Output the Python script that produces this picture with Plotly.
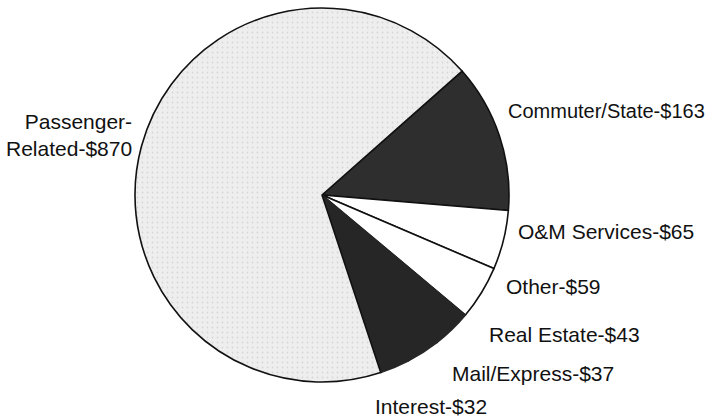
import plotly.graph_objects as go

categories = ["Commuter/State", "O&M Services", "Other", "Real Estate",
              "Mail/Express", "Interest", "Passenger-Related"]
values = [163, 65, 59, 43, 37, 32, 870]
label_texts = ["Commuter/State-$163", "O&M Services-$65", "Other-$59",
               "Real Estate-$43", "Mail/Express-$37", "Interest-$32",
               "Passenger-<br>Related-$870"]

# styling (not data)
slice_colors = ["#2e2e2e", "#ffffff", "#ffffff", "#262626", "#262626", "#262626", "#ededed"]
line_colors = ["#111111", "#111111", "#111111", "#262626", "#262626", "#262626", "#111111"]
pattern_shapes = ["", "", "", "", "", "", "."]
label_pos = [  # x px (anchor), y px (middle), xanchor, font size
    (506, 111, "left", 20), (516, 231, "left", 21), (504, 286, "left", 21),
    (487, 334, "left", 21), (450, 373, "left", 21), (373, 406, "left", 21),
    (134, 135, "right", 21),
]

W, H = 709, 419
cx, cy, r = 322, 195, 187

fig = go.Figure(go.Pie(
    labels=categories, values=values, sort=False, direction="clockwise",
    rotation=48.5, textinfo="none", hoverinfo="label+value",
    marker=dict(colors=slice_colors,
                line=dict(color=line_colors, width=1.6),
                pattern=dict(shape=pattern_shapes, fgcolor="#bdbdbd",
                             bgcolor="#eeeeee", size=5, solidity=0.1,
                             fillmode="overlay")),
    domain=dict(x=[(cx - r) / W, (cx + r) / W],
                y=[(H - cy - r) / H, (H - cy + r) / H]),
    showlegend=False,
))

for txt, (x, y, xa, fs) in zip(label_texts, label_pos):
    fig.add_annotation(x=x / W, y=1 - y / H, xref="paper", yref="paper",
                       text=txt, showarrow=False, xanchor=xa, yanchor="middle",
                       align="right" if xa == "right" else "left",
                       font=dict(family="Liberation Sans, Arial, sans-serif",
                                 size=fs, color="#111111"))

fig.update_layout(width=W, height=H, margin=dict(l=0, r=0, t=0, b=0),
                  paper_bgcolor="white", plot_bgcolor="white")
fig.write_html("out.html", config={"displayModeBar": False},
               post_script="document.body.style.margin='0';document.body.style.overflow='hidden';")
